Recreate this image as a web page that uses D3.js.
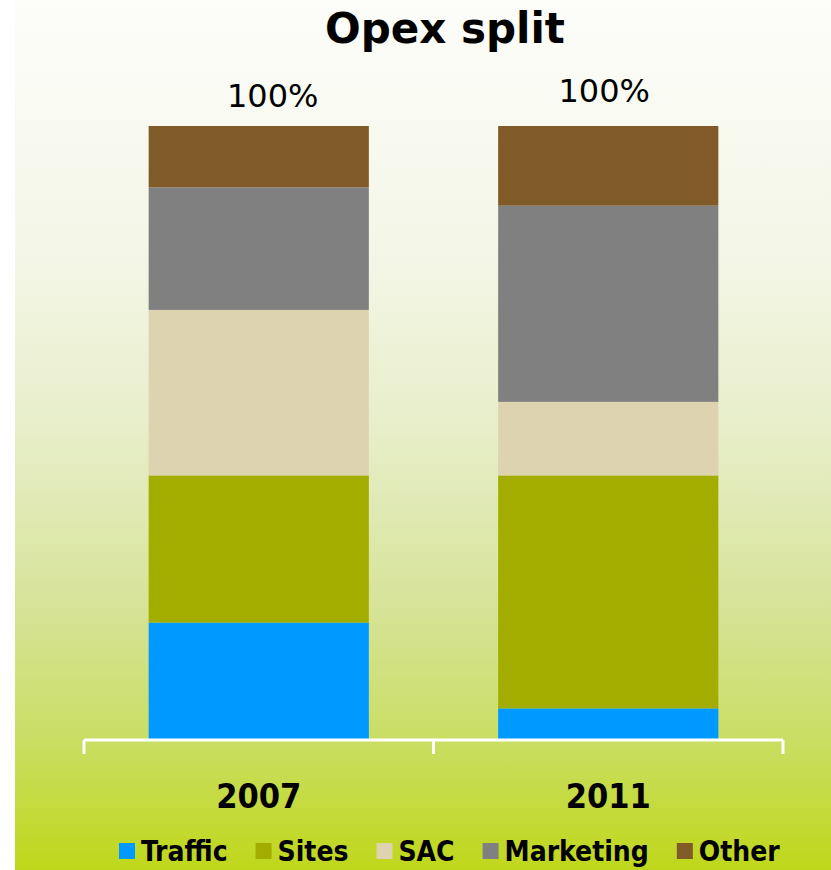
<!DOCTYPE html>
<html>
<head>
<meta charset="utf-8">
<script src="https://cdn.jsdelivr.net/npm/d3@7"></script>
<style>
  html, body { margin: 0; padding: 0; background: #ffffff; }
  svg { display: block; }
  text { font-family: "DejaVu Sans", sans-serif; fill: #000; }
  .cond { font-family: "DejaVu Sans Condensed", "DejaVu Sans", sans-serif; font-stretch: condensed; }
</style>
</head>
<body>
<svg id="chart" width="831" height="870"></svg>
<script>
// Opex split by year, in percent of total opex
const years = ["2007", "2011"];
const seriesNames = ["Traffic", "Sites", "SAC", "Marketing", "Other"];
const traffic   = [19, 5];
const sites     = [24, 38];
const sac       = [27, 12];
const marketing = [20, 32];
const other     = [10, 13];
const totalLabels = ["100%", "100%"];

const colors = {
  Traffic: "#0099ff",
  Sites: "#a3ad00",
  SAC: "#ddd3b0",
  Marketing: "#808080",
  Other: "#805a27"
};

const rows = years.map((y, i) => ({
  year: y,
  Traffic: traffic[i],
  Sites: sites[i],
  SAC: sac[i],
  Marketing: marketing[i],
  Other: other[i]
}));

const W = 831, H = 870;
const svg = d3.select("#chart");

// background gradient panel
const defs = svg.append("defs");
const grad = defs.append("linearGradient")
  .attr("id", "bg").attr("x1", 0).attr("y1", 0).attr("x2", 0).attr("y2", 1);
[[0, "#fdfdfa"], [0.3, "#f3f6e6"], [0.5, "#e7eec8"], [0.7, "#d6e397"],
 [0.85, "#cade64"], [1, "#bfd71a"]].forEach(([o, c]) =>
  grad.append("stop").attr("offset", o).attr("stop-color", c));
svg.append("rect").attr("x", 15).attr("y", 0).attr("width", W - 15).attr("height", H)
  .attr("fill", "url(#bg)");

// scales
const left = 84, right = 783, baseY = 739, topY = 126;
const x = d3.scaleBand().domain(years).range([left, right])
  .paddingInner(0.37).paddingOuter(0.185);
const xCat = d3.scaleBand().domain(years).range([left, right]).padding(0);
const y = d3.scaleLinear().domain([0, 100]).range([baseY, topY]);

// stacked bars
const stacked = d3.stack().keys(seriesNames)(rows);
svg.append("g").selectAll("g").data(stacked).join("g")
  .attr("fill", d => colors[d.key])
  .selectAll("rect").data(d => d).join("rect")
  .attr("x", d => x(d.data.year))
  .attr("width", x.bandwidth())
  .attr("y", d => y(d[1]))
  .attr("height", d => y(d[0]) - y(d[1]));

// category axis: white baseline with tick marks at band boundaries
const axisG = svg.append("g").attr("transform", `translate(0,${baseY + 1})`);
const xAxis = d3.axisBottom(xCat).tickSize(14).tickFormat("");
axisG.call(xAxis);
axisG.select(".domain").remove();
axisG.selectAll(".tick").remove();
const boundaries = years.map(d => xCat(d)).concat([xCat(years[years.length - 1]) + xCat.bandwidth()]);
axisG.append("line").attr("x1", left).attr("x2", right).attr("y1", 0).attr("y2", 0)
  .attr("stroke", "#ffffff").attr("stroke-width", 3);
axisG.selectAll("line.tk").data(boundaries).join("line").attr("class", "tk")
  .attr("x1", d => d).attr("x2", d => d).attr("y1", 0).attr("y2", 14)
  .attr("stroke", "#ffffff").attr("stroke-width", 3);

// category labels
svg.append("g").selectAll("text").data(years).join("text")
  .attr("class", "cond")
  .attr("x", d => x(d) + x.bandwidth() / 2)
  .attr("y", 808)
  .attr("text-anchor", "middle")
  .attr("font-size", 34)
  .attr("font-weight", "bold")
  .text(d => d);

// total labels above each stack
const labelShift = [{dx: 14, dy: -19}, {dx: -4, dy: -24}];
svg.append("g").selectAll("text").data(rows).join("text")
  .attr("x", (d, i) => x(d.year) + x.bandwidth() / 2 + labelShift[i].dx)
  .attr("y", (d, i) => y(seriesNames.reduce((s, k) => s + d[k], 0)) + labelShift[i].dy)
  .attr("text-anchor", "middle")
  .attr("font-size", 32)
  .text((d, i) => totalLabels[i]);

// title
svg.append("text")
  .attr("x", 445).attr("y", 43)
  .attr("text-anchor", "middle")
  .attr("font-size", 42)
  .attr("font-weight", "bold")
  .text("Opex split");

// legend
const legend = svg.append("g").attr("transform", "translate(119,0)");
let cx = 0;
seriesNames.forEach(name => {
  const item = legend.append("g").attr("transform", `translate(${cx},0)`);
  item.append("rect").attr("x", 0).attr("y", 843).attr("width", 16).attr("height", 16)
    .attr("fill", colors[name]);
  const t = item.append("text").attr("class", "cond")
    .attr("x", 22).attr("y", 861)
    .attr("font-size", 28).attr("font-weight", "bold")
    .text(name);
  cx += 22 + t.node().getComputedTextLength() + 28;
});
</script>
</body>
</html>
